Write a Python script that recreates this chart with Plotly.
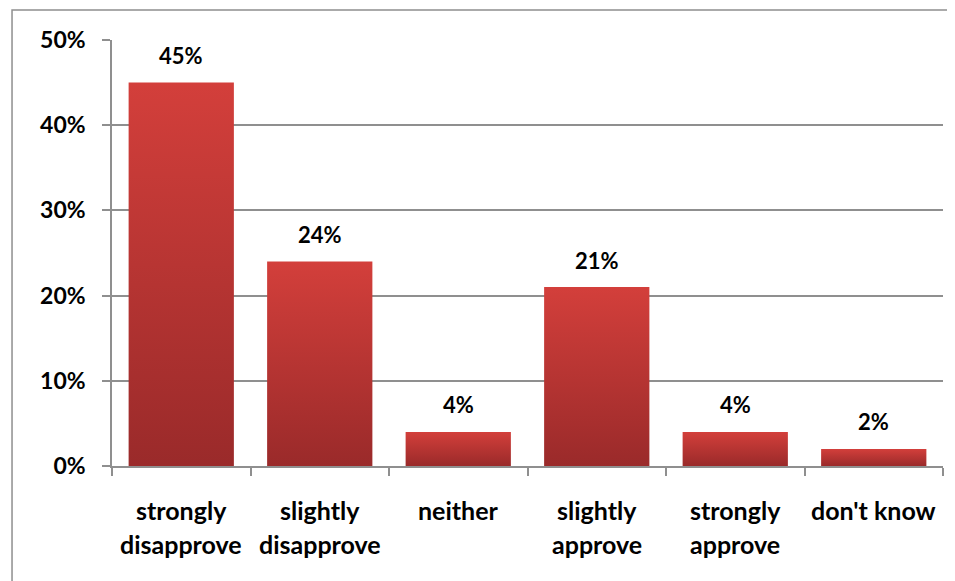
import plotly.graph_objects as go

categories = ["strongly<br>disapprove", "slightly<br>disapprove", "neither",
              "slightly<br>approve", "strongly<br>approve", "don't know"]
values = [45, 24, 4, 21, 4, 2]
y_ticks = [0, 10, 20, 30, 40, 50]
y_ticktext = ["0%", "10%", "20%", "30%", "40%", "50%"]

FONT = "Lato"
GRID = "#8f8f8f"
bar_w = 0.76

fig = go.Figure()
for i, v in enumerate(values):
    x0, x1 = i - bar_w / 2, i + bar_w / 2
    fig.add_trace(go.Scatter(
        x=[x0, x0, x1, x1, x0], y=[0, v, v, 0, 0],
        mode="lines", line=dict(width=0), fill="toself",
        fillgradient=dict(type="vertical",
                          colorscale=[[0, "#9a2a2a"], [1, "#d33f3b"]]),
        hoverinfo="skip", showlegend=False))

annotations = []
for i, v in enumerate(values):
    annotations.append(dict(x=i, y=v, xref="x", yref="y", text=f"<b>{v}%</b>",
                            showarrow=False, yanchor="middle", yshift=27,
                            font=dict(family=FONT, size=22, color="black")))
    for j, line in enumerate(categories[i].split("<br>")):
        annotations.append(dict(x=i, y=0, xref="x", yref="paper", text=f"<b>{line}</b>",
                                showarrow=False, yanchor="middle", yshift=-44 - 34 * j,
                                font=dict(family=FONT, size=25, color="black")))

fig.update_layout(
    width=955, height=581,
    margin=dict(l=104, r=20, t=32, b=123),
    paper_bgcolor="white", plot_bgcolor="white",
    annotations=annotations,
    shapes=[dict(type="rect", xref="paper", yref="paper",
                 x0=-0.1203, x1=1.2, y0=-0.6, y1=1.0704,
                 line=dict(color="#8f8f8f", width=1.5), layer="below")],
    xaxis=dict(range=[-0.5, 5.5], tickvals=[i - 0.5 for i in range(7)],
               ticktext=[""] * 7, ticks="outside", ticklen=8, tickwidth=1.5,
               tickcolor=GRID, showline=True, linecolor=GRID, linewidth=1.5,
               showgrid=False, zeroline=False, fixedrange=True),
    yaxis=dict(range=[0, 50], tickvals=y_ticks, ticktext=y_ticktext,
               ticks="outside", ticklen=8, tickwidth=1.5, tickcolor=GRID,
               showline=True, linecolor=GRID, linewidth=1.5,
               showgrid=True, gridcolor=GRID, gridwidth=1.5, zeroline=False,
               ticklabelstandoff=12,
               tickfont=dict(family=FONT, size=23, color="black", weight="bold")),
)

fig.write_html("out.html")
